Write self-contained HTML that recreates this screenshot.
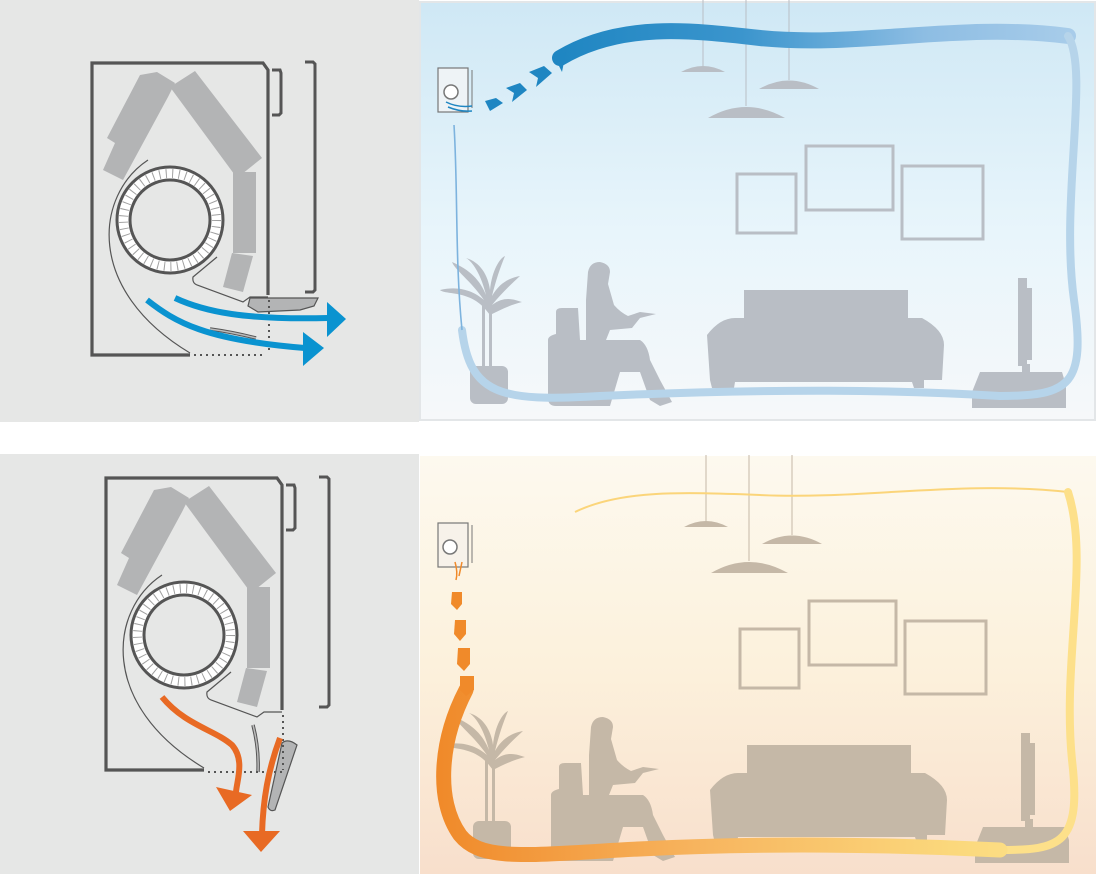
<!DOCTYPE html>
<html><head><meta charset="utf-8"><style>
html,body{margin:0;padding:0;background:#fff;}
svg{display:block;font-family:"Liberation Sans",sans-serif;}
</style></head><body>
<svg width="1096" height="874" viewBox="0 0 1096 874" xmlns="http://www.w3.org/2000/svg">
<defs>
<linearGradient id="bgB" x1="0" y1="0" x2="0" y2="1">
 <stop offset="0" stop-color="#cfe8f5"/><stop offset="0.55" stop-color="#e8f5fb"/><stop offset="1" stop-color="#f6f8fa"/>
</linearGradient>
<linearGradient id="bgW" x1="0" y1="0" x2="0" y2="1">
 <stop offset="0" stop-color="#fdf9ef"/><stop offset="0.5" stop-color="#fcf1dc"/><stop offset="1" stop-color="#f8dfcc"/>
</linearGradient>
<linearGradient id="tubeB" x1="560" y1="0" x2="1080" y2="0" gradientUnits="userSpaceOnUse">
 <stop offset="0" stop-color="#1f86c2"/><stop offset="0.35" stop-color="#3b95cd"/><stop offset="0.7" stop-color="#8dbde3"/><stop offset="1" stop-color="#a9cdea"/>
</linearGradient>
<linearGradient id="tubeW" x1="440" y1="0" x2="1080" y2="0" gradientUnits="userSpaceOnUse">
 <stop offset="0" stop-color="#f08a2a"/><stop offset="0.4" stop-color="#f7b45e"/><stop offset="0.8" stop-color="#fbd87c"/><stop offset="1" stop-color="#fde48c"/>
</linearGradient>

<g id="room">
 <line x1="703" y1="0" x2="703" y2="66" stroke="currentColor" stroke-width="1"/>
 <line x1="746" y1="0" x2="746" y2="106" stroke="currentColor" stroke-width="1"/>
 <line x1="789" y1="0" x2="789" y2="80" stroke="currentColor" stroke-width="1"/>
 <path d="M681,72 Q703,60 725,72 Z" fill="currentColor"/>
 <path d="M708,118 Q746,96 785,118 Z" fill="currentColor"/>
 <path d="M759,89 Q789,72 819,89 Z" fill="currentColor"/>
 <rect x="737" y="174" width="59" height="59" fill="none" stroke="currentColor" stroke-width="3"/>
 <rect x="806" y="146" width="87" height="64" fill="none" stroke="currentColor" stroke-width="3"/>
 <rect x="902" y="166" width="81" height="73" fill="none" stroke="currentColor" stroke-width="3"/>
 <rect x="470" y="366" width="38" height="38" rx="6" fill="currentColor"/>
 <rect x="482" y="300" width="3" height="68" fill="currentColor"/>
 <rect x="489" y="300" width="3" height="68" fill="currentColor"/>
 <path d="M486,310 C470,290 445,295 440,290 C460,285 475,292 484,300 C470,280 455,270 452,262 C470,270 480,280 486,295 C480,270 470,260 466,258 C480,262 488,275 490,290 C492,270 500,258 505,256 C500,268 496,280 492,296 C500,282 510,278 520,276 C510,285 500,295 492,305 C505,295 515,300 522,302 C510,305 500,310 490,315 Z" fill="currentColor"/>
 <path d="M556,312 Q556,308 562,308 L578,308 L580,340 L640,340 Q648,345 650,360 L660,380 L672,402 L660,406 L650,400 L640,372 L620,372 L610,406 L556,406 Q548,406 548,398 L548,340 Q548,336 556,334 Z" fill="currentColor"/>
 <path d="M586,300 L588,272 Q590,262 600,262 Q610,264 610,272 L608,284 L614,305 Q620,312 628,316 L640,312 L656,314 L640,318 L632,328 L610,330 L606,340 L586,340 Z" fill="currentColor"/>
 <path d="M744,290 L908,290 L908,318 L922,318 Q944,330 944,345 L942,380 L924,380 L924,388 L914,388 L912,382 L735,382 L734,388 L712,388 L710,380 L707,335 Q720,318 735,318 L744,318 Z" fill="currentColor"/>
 <rect x="1018" y="278" width="9" height="88" fill="currentColor"/>
 <rect x="1026" y="288" width="6" height="72" fill="currentColor"/>
 <rect x="1022" y="364" width="8" height="10" fill="currentColor"/>
 <path d="M980,372 L1062,372 L1066,385 L1066,408 L972,408 L972,392 Z" fill="currentColor"/>
</g>

<g id="unitbase">
 <path d="M190,355 L92,355 L92,63 L263,63 L268,70 L268,295" fill="none" stroke="#555" stroke-width="3.2"/>
 <path d="M272,70 L280,70 L281,73 L281,113 L279,115 L272,115" fill="none" stroke="#555" stroke-width="3"/>
 <path d="M305,62 L313,62 L315,64 L315,290 L313,292 L305,292" fill="none" stroke="#555" stroke-width="3"/>
 <polygon points="140,75 157,72 175,83 168,97 123,180 103,170 115,143 107,138" fill="#b3b4b5"/>
 <polygon points="170,87 195,71 262,158 237,178" fill="#b3b4b5"/>
 <polygon points="233,172 256,172 256,253 233,253" fill="#b3b4b5"/>
 <polygon points="232,253 253,256 243,292 223,287" fill="#b3b4b5"/>
 <circle cx="170" cy="220" r="53" fill="#fff" stroke="#555" stroke-width="3"/>
 <circle cx="170" cy="220" r="46.5" fill="none" stroke="#a0a0a0" stroke-width="9" stroke-dasharray="1 5.5"/>
 <circle cx="170" cy="220" r="40" fill="#e6e7e6" stroke="#555" stroke-width="3"/>
 <path d="M148,160 C95,195 85,290 190,353" fill="none" stroke="#555" stroke-width="1.2"/>
 <path d="M217,257 L193,277 Q192,283 197,285 L243,302 L250,297 L268,297" fill="none" stroke="#555" stroke-width="1.2"/>
</g>
</defs>

<rect x="0" y="0" width="419" height="422" fill="#e6e7e6"/>
<rect x="420" y="2" width="676" height="418" fill="url(#bgB)"/>
<rect x="0" y="454" width="419" height="420" fill="#e6e7e6"/>
<rect x="420" y="456" width="676" height="418" fill="url(#bgW)"/>
<rect x="420" y="2" width="675" height="418" fill="none" stroke="#e3e6e8" stroke-width="2"/>

<g style="color:#b9bec5"><use href="#room"/></g>
<path d="M560,58 C620,22 690,30 760,38 C860,48 960,22 1068,36" fill="none" stroke="url(#tubeB)" stroke-width="16" stroke-linecap="round"/>
<path d="M1068,36 C1090,70 1060,200 1074,300 C1086,385 1070,396 1000,396 C900,390 780,388 600,396 C500,402 470,395 462,330" fill="none" stroke="#b6d4ea" stroke-width="8" stroke-linecap="round"/>
<path d="M462,330 C455,260 458,190 454,125" fill="none" stroke="#7db3de" stroke-width="1.6"/>
<rect x="438" y="68" width="30" height="44" fill="#eef3f6" stroke="#777" stroke-width="1.2"/>
<circle cx="451" cy="92" r="7" fill="#fff" stroke="#777" stroke-width="1.5"/>
<path d="M472,70 L472,108" stroke="#777" stroke-width="1"/>
<path d="M446,102 Q458,108 472,106 M448,107 Q460,112 472,111" stroke="#1f86c2" stroke-width="1.5" fill="none"/>
<g fill="#1f86c2">
 <polygon points="485,101 496,98 503,103 490,111"/>
 <polygon points="506,88 520,83 527,90 512,102 514,93"/>
 <polygon points="529,72 544,66 552,73 536,87 538,78"/>
 <polygon points="552,58 566,52 562,72 558,64"/>
</g>

<g transform="translate(3,455)" style="color:#c5b8a7"><use href="#room"/></g>
<path d="M575,512 C620,490 680,492 760,495 C860,500 960,480 1068,492" fill="none" stroke="#fbd57a" stroke-width="2"/>
<path d="M1068,492 C1090,560 1062,660 1072,760 C1082,845 1060,850 1000,850" fill="none" stroke="#fde08a" stroke-width="8" stroke-linecap="round"/>
<path d="M1000,850 C900,845 760,842 620,850 C520,856 480,860 460,835 C435,800 440,740 466,690" fill="none" stroke="url(#tubeW)" stroke-width="15" stroke-linecap="round"/>
<rect x="438" y="523" width="30" height="44" fill="#f7f2ea" stroke="#777" stroke-width="1.2"/>
<circle cx="450" cy="547" r="7" fill="#fff" stroke="#777" stroke-width="1.5"/>
<path d="M472,525 L472,563" stroke="#777" stroke-width="1"/>
<path d="M455,562 Q458,572 456,580 M462,562 L459,576" stroke="#f08a2a" stroke-width="1.5" fill="none"/>
<g fill="#f08a2a">
 <polygon points="452,592 462,592 462,604 457,610 451,604"/>
 <polygon points="455,620 466,620 466,634 460,641 454,634"/>
 <polygon points="458,648 470,648 470,664 464,671 457,664"/>
 <polygon points="460,676 474,676 474,690 466,696 460,690"/>
</g>

<use href="#unitbase"/>
<path d="M250,298 L318,298 L314,306 L300,310 L258,312 L248,306 Z" fill="#b3b4b5" stroke="#555" stroke-width="1.2"/>
<path d="M210,329 Q232,332 256,338" fill="none" stroke="#555" stroke-width="3.5"/>
<path d="M210,329 Q232,332 256,338" fill="none" stroke="#bbb" stroke-width="1.5"/>
<line x1="269" y1="300" x2="269" y2="350" stroke="#555" stroke-width="2" stroke-dasharray="2 4"/>
<line x1="194" y1="355" x2="264" y2="355" stroke="#555" stroke-width="2" stroke-dasharray="2 4"/>
<path d="M147,300 C175,322 205,340 305,348" fill="none" stroke="#0a93d0" stroke-width="6"/>
<polygon points="303,332 324,348 303,366" fill="#0a93d0"/>
<path d="M175,298 C205,312 245,320 328,318" fill="none" stroke="#0a93d0" stroke-width="6"/>
<polygon points="327,302 346,319 327,337" fill="#0a93d0"/>

<use href="#unitbase" transform="translate(14,415)"/>
<path d="M268,807 L282,743 Q288,738 297,745 L275,810 Q270,812 268,807 Z" fill="#b3b4b5" stroke="#555" stroke-width="1.2"/>
<path d="M253,725 Q259,748 258,772" fill="none" stroke="#555" stroke-width="3.5"/>
<path d="M253,725 Q259,748 258,772" fill="none" stroke="#bbb" stroke-width="1.5"/>
<line x1="283" y1="715" x2="283" y2="770" stroke="#555" stroke-width="2" stroke-dasharray="2 4"/>
<line x1="208" y1="772" x2="282" y2="772" stroke="#555" stroke-width="2" stroke-dasharray="2 4"/>
<path d="M162,697 C185,725 215,730 232,745 C245,760 237,780 236,792" fill="none" stroke="#e86a24" stroke-width="6"/>
<polygon points="216,787 252,795 230,811" fill="#e86a24"/>
<path d="M280,738 C268,770 263,800 262,834" fill="none" stroke="#e86a24" stroke-width="6"/>
<polygon points="243,831 280,831 261,852" fill="#e86a24"/>
</svg>
</body></html>
